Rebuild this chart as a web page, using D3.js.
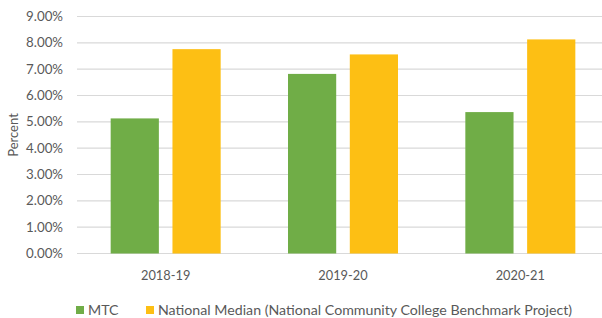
<!DOCTYPE html>
<html>
<head>
<meta charset="utf-8">
<title>Percent</title>
<style>
body { margin: 0; background: #fff; font-family: Lato, "Open Sans", sans-serif; }
text { fill: #595959; }
</style>
<script src="https://d3js.org/d3.v7.min.js"></script>
</head>
<body>
<script>
var years = ["2018-19", "2019-20", "2020-21"];
var series = ["MTC", "National Median (National Community College Benchmark Project)"];
var mtc = [5.13, 6.82, 5.37];
var national = [7.76, 7.56, 8.13];
var colors = ["#70ad47", "#fdbf14"];
var yTicks = [0, 1, 2, 3, 4, 5, 6, 7, 8, 9];

var width = 602, height = 318;
var svg = d3.select("body").append("svg")
    .attr("width", width)
    .attr("height", height);

var x = d3.scaleBand().domain(years).range([77, 609]).paddingInner(0).paddingOuter(0);
var y = d3.scaleLinear().domain([0, 9]).range([253.5, 16.5]);
var inner = d3.scaleBand().domain([0, 1]).range([0, 110]).paddingInner(0.22);
var groupOff = (x.bandwidth() - 110) / 2;

// gridlines
svg.append("g").selectAll("line")
    .data(yTicks)
  .enter().append("line")
    .attr("x1", 77)
    .attr("x2", 609)
    .attr("y1", function(d) { return y(d); })
    .attr("y2", function(d) { return y(d); })
    .attr("stroke", "#d9d9d9")
    .attr("stroke-width", 1.2);

// y tick labels
svg.append("g").selectAll("text")
    .data(yTicks)
  .enter().append("text")
    .attr("x", 63)
    .attr("y", function(d) { return y(d); })
    .attr("dy", "0.35em")
    .attr("text-anchor", "end")
    .attr("font-size", "13.3px")
    .text(function(d) { return d.toFixed(2) + "%"; });

svg.append("text")
    .attr("transform", "translate(13," + y(4.5) + ") rotate(-90)")
    .attr("dy", "0.35em")
    .attr("text-anchor", "middle")
    .attr("font-size", "13px")
    .text("Percent");

var rows = years.map(function(yr, i) { return {year: yr, vals: [mtc[i], national[i]]}; });

var groups = svg.append("g").selectAll("g")
    .data(rows)
  .enter().append("g")
    .attr("transform", function(d) { return "translate(" + (x(d.year) + groupOff) + ",0)"; });

groups.selectAll("rect")
    .data(function(d) { return d.vals; })
  .enter().append("rect")
    .attr("x", function(d, i) { return inner(i); })
    .attr("width", inner.bandwidth())
    .attr("y", function(d) { return y(d); })
    .attr("height", function(d) { return y(0) - y(d); })
    .attr("fill", function(d, i) { return colors[i]; });

// category labels
svg.append("g").selectAll("text")
    .data(years)
  .enter().append("text")
    .attr("x", function(d) { return x(d) + groupOff + 55; })
    .attr("y", 276)
    .attr("dy", "0.35em")
    .attr("text-anchor", "middle")
    .attr("font-size", "12.8px")
    .text(function(d) { return d; });

// legend
var legX = [76, 146];
var legend = svg.append("g").selectAll("g")
    .data(series)
  .enter().append("g")
    .attr("transform", function(d, i) { return "translate(" + legX[i] + ",310)"; });

legend.append("rect")
    .attr("x", 0)
    .attr("y", -4)
    .attr("width", 8)
    .attr("height", 8)
    .attr("fill", function(d, i) { return colors[i]; });

legend.append("text")
    .attr("x", 12)
    .attr("dy", "0.35em")
    .attr("font-size", "14.2px")
    .text(function(d) { return d; });
</script>
</body>
</html>
